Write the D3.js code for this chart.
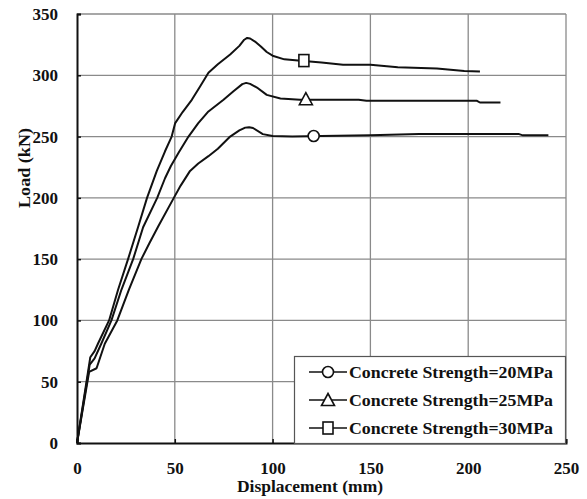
<!DOCTYPE html>
<html>
<head>
<meta charset="utf-8">
<script src="https://cdn.jsdelivr.net/npm/d3@7"></script>
<style>
  html, body { margin: 0; padding: 0; background: #fff; }
  svg text { font-family: "Liberation Serif", "Times New Roman", serif; font-weight: bold; fill: #111; }
</style>
</head>
<body>
<svg id="chart" width="587" height="499"></svg>
<script>
// Load–displacement curves for three concrete strengths
const xTicks = [0, 50, 100, 150, 200, 250];
const yTicks = [0, 50, 100, 150, 200, 250, 300, 350];

const seriesNames = [
  "Concrete Strength=20MPa",
  "Concrete Strength=25MPa",
  "Concrete Strength=30MPa"
];
const seriesSymbols = ["circle", "triangle", "square"];

// [displacement (mm), load (kN)]
const curve20 = [[0,0],[6.2,58],[10,61],[14.2,81],[20.6,100],[26.5,125],[32.9,150],[37,163],[41.5,176.6],[49.5,200],[53,210],[57.8,222],[62,228],[67.2,234],[72,240],[78.3,250],[83,255],[86,257.3],[88,257.6],[90,257],[95,252],[100,250.5],[110,250],[125,250.5],[150,251],[175,252],[226,252],[228,251],[241,251]];
const curve25 = [[0,0],[6.5,64],[9,69],[12.4,81],[17.6,100],[22.7,125],[28.7,150],[33.8,176],[41,200],[45,216],[48,226],[52,237],[57,250],[62,261],[67.2,270.5],[74.9,280],[80,287],[84.5,292.8],[86.5,293.8],[88.5,293],[92,290],[97,284],[104,281],[114,280],[130,280],[144,280],[148,279.2],[204.5,279.2],[206,277.8],[216.5,277.8]];
const curve30 = [[0,0],[6.8,70],[9,75],[10.7,81],[16.4,100],[21,125],[26.1,150],[31.2,176],[35.8,200],[40.8,222],[45,238],[48.4,250],[50.2,261],[54,270],[58.7,280],[63,291],[67.2,302],[72,309],[78.3,317],[83,324],[85.5,329],[87,330.5],[88.5,330],[91,327.5],[94,323.5],[97,319],[100,316],[106,313],[113,312],[125,310.5],[136,308.5],[150,308.5],[164,306.5],[176,306],[184,305.5],[198,303.5],[206,303]];

// one marker point per series
const markerPoints = [[121, 250.5], [117, 280.5], [116, 312]];

const curves = [curve20, curve25, curve30];

const svg = d3.select("#chart");
const plotLeft = 77, plotRight = 566, plotTop = 14, plotBottom = 443;

const x = d3.scaleLinear().domain([0, 250]).range([plotLeft, plotRight]);
const y = d3.scaleLinear().domain([0, 350]).range([plotBottom, plotTop]);

// grid
const grid = svg.append("g");
grid.selectAll("line.v").data(xTicks.slice(1)).join("line")
  .attr("x1", d => x(d)).attr("x2", d => x(d))
  .attr("y1", plotTop).attr("y2", plotBottom)
  .attr("stroke", "#8a8a8a").attr("stroke-width", 1.3);
grid.selectAll("line.h").data(yTicks.slice(1)).join("line")
  .attr("x1", plotLeft).attr("x2", plotRight)
  .attr("y1", d => y(d)).attr("y2", d => y(d))
  .attr("stroke", "#8a8a8a").attr("stroke-width", 1.3);

// axes with inward ticks
const xAxis = svg.append("g").attr("transform", `translate(0,${plotBottom})`)
  .call(d3.axisBottom(x).tickValues(xTicks).tickSize(-4).tickPadding(19));
const yAxis = svg.append("g").attr("transform", `translate(${plotLeft},0)`)
  .call(d3.axisLeft(y).tickValues(yTicks).tickSize(-4).tickPadding(19));
[xAxis, yAxis].forEach(g => {
  g.select(".domain").attr("stroke", "#111").attr("stroke-width", 2);
  g.selectAll(".tick line").attr("stroke", "#111").attr("stroke-width", 1.5);
  g.selectAll(".tick text")
    .attr("font-family", "Liberation Serif, Times New Roman, serif")
    .attr("font-weight", "bold").attr("font-size", 17).attr("fill", "#111");
});

// curves
const line = d3.line().x(d => x(d[0])).y(d => y(d[1]));
svg.append("g").selectAll("path").data(curves).join("path")
  .attr("d", line)
  .attr("fill", "none").attr("stroke", "#111").attr("stroke-width", 2)
  .attr("stroke-linejoin", "round");

function drawSymbol(g, type, cx, cy) {
  if (type === "circle") {
    g.append("circle").attr("cx", cx).attr("cy", cy).attr("r", 5.5);
  } else if (type === "triangle") {
    g.append("path").attr("d", `M${cx},${cy - 6.5}L${cx + 6.5},${cy + 5.5}L${cx - 6.5},${cy + 5.5}Z`);
  } else {
    g.append("rect").attr("x", cx - 5).attr("y", cy - 6).attr("width", 10).attr("height", 12);
  }
  g.selectAll("*").attr("fill", "#fff").attr("stroke", "#111").attr("stroke-width", 1.6);
}

markerPoints.forEach((p, i) => {
  drawSymbol(svg.append("g"), seriesSymbols[i], x(p[0]), y(p[1]));
});

// axis titles
svg.append("text")
  .attr("x", 310).attr("y", 492).attr("text-anchor", "middle")
  .attr("font-size", 16).attr("textLength", 146).attr("lengthAdjust", "spacingAndGlyphs")
  .text("Displacement (mm)");
svg.append("text")
  .attr("transform", "translate(30,168) rotate(-90)")
  .attr("text-anchor", "middle").attr("font-size", 16)
  .attr("textLength", 80).attr("lengthAdjust", "spacingAndGlyphs")
  .text("Load (kN)");

// legend
const legend = svg.append("g");
legend.append("rect")
  .attr("x", 294.5).attr("y", 356.5).attr("width", 271).attr("height", 87)
  .attr("fill", "#fff").attr("stroke", "#555").attr("stroke-width", 1.2);
const rowsY = [372, 400, 428];
seriesNames.forEach((name, i) => {
  const g = legend.append("g");
  g.append("line").attr("x1", 309).attr("x2", 347)
    .attr("y1", rowsY[i]).attr("y2", rowsY[i])
    .attr("stroke", "#111").attr("stroke-width", 1.6);
  drawSymbol(g.append("g"), seriesSymbols[i], 328, rowsY[i]);
  g.append("text").attr("x", 349).attr("y", rowsY[i] + 6)
    .attr("font-size", 17).attr("textLength", 204).attr("lengthAdjust", "spacingAndGlyphs")
    .text(name);
});
</script>
</body>
</html>
